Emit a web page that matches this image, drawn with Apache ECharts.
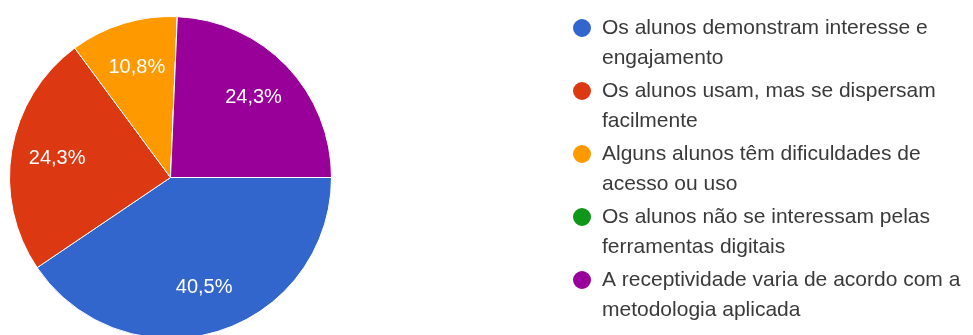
<!DOCTYPE html>
<html>
<head>
<meta charset="utf-8">
<script src="https://cdn.jsdelivr.net/npm/echarts@6/dist/echarts.min.js"></script>
<style>
  html, body { margin: 0; padding: 0; background: #ffffff; }
  #chart { width: 973px; height: 335px; }
</style>
</head>
<body>
<div id="chart"></div>
<script>
// Response categories (legend text, wrapped as displayed)
const categories = [
  'Os alunos demonstram interesse e\nengajamento',
  'Os alunos usam, mas se dispersam\nfacilmente',
  'Alguns alunos têm dificuldades de\nacesso ou uso',
  'Os alunos não se interessam pelas\nferramentas digitais',
  'A receptividade varia de acordo com a\nmetodologia aplicada'
];
// Share of answers, in percent
const percents = [40.5, 24.3, 10.8, 0, 24.3];
const colors = ['#3366cc', '#dc3912', '#ff9900', '#109618', '#990099'];

const pieData = categories.map((name, i) => ({
  name: name,
  value: percents[i],
  itemStyle: { color: colors[i] }
}));

const fmtPct = p => p.value > 0 ? p.value.toFixed(1).replace('.', ',') + '%' : '';

const pieCenter = [170.5, 177.5];

const chart = echarts.init(document.getElementById('chart'), null, { renderer: 'canvas' });
chart.setOption({
  backgroundColor: '#ffffff',
  animation: false,
  legend: {
    orient: 'vertical',
    left: 571,
    top: -17,
    padding: 0,
    itemGap: -27,
    itemWidth: 20,
    itemHeight: 20,
    icon: 'circle',
    selectedMode: false,
    data: categories,
    // leading blank line keeps the marker level with the first text line
    formatter: name => '\n' + name,
    textStyle: {
      fontFamily: 'Liberation Sans, Arial, sans-serif',
      fontSize: 21,
      lineHeight: 30,
      color: '#3a3a3a',
      padding: [0, 0, 0, 5]
    }
  },
  series: [
    {
      type: 'pie',
      center: pieCenter,
      radius: [0, 161],
      startAngle: 0,
      clockwise: true,
      silent: true,
      avoidLabelOverlap: false,
      itemStyle: { borderColor: '#ffffff', borderWidth: 1 },
      label: { show: false },
      labelLine: { show: false },
      data: pieData
    },
    {
      // transparent companion ring that places the percentage labels
      type: 'pie',
      center: pieCenter,
      radius: [0, 224],
      startAngle: 0,
      clockwise: true,
      silent: true,
      z: 5,
      avoidLabelOverlap: false,
      itemStyle: { color: 'rgba(0,0,0,0)', borderWidth: 0 },
      label: {
        show: true,
        position: 'inside',
        formatter: fmtPct,
        color: '#ffffff',
        fontFamily: 'Liberation Sans, Arial, sans-serif',
        fontSize: 20
      },
      labelLine: { show: false },
      data: categories.map((name, i) => ({ name: name, value: percents[i] }))
    }
  ]
});
</script>
</body>
</html>
